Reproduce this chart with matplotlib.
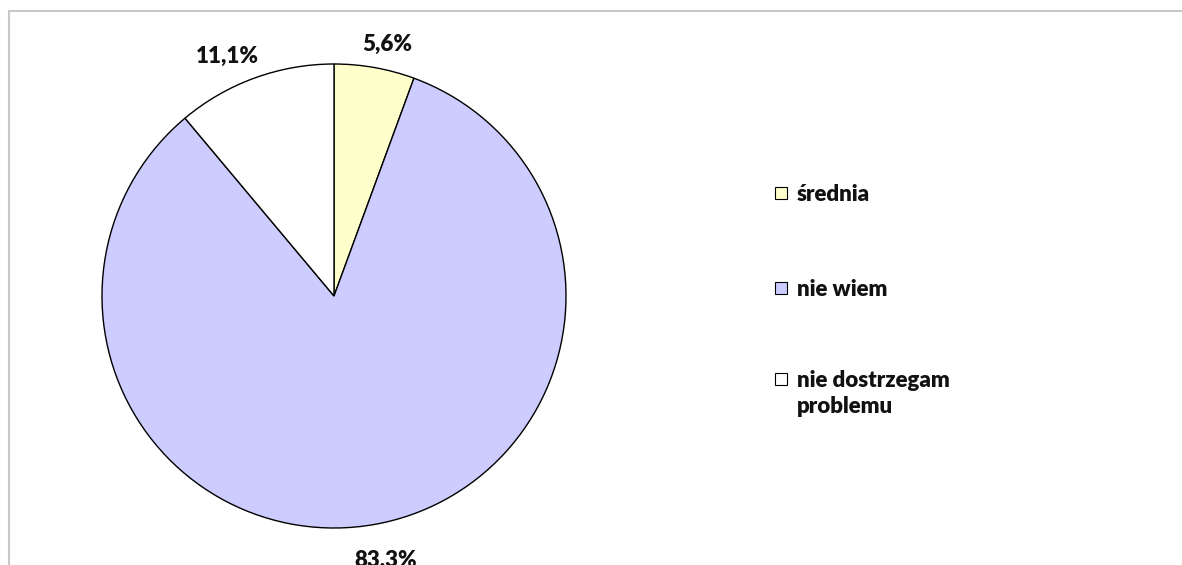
import numpy as np
import matplotlib.pyplot as plt
from matplotlib.patches import Rectangle

# data
categories = ['średnia', 'nie wiem', 'nie dostrzegam\nproblemu']
shares = [5.6, 83.3, 11.1]
slice_colors = ['#FFFFCC', '#CCCCFF', '#FFFFFF']
pct_labels = ['5,6%', '83,3%', '11,1%']

plt.rcParams['font.family'] = ['Lato', 'DejaVu Sans']

W, H = 1182, 565
fig = plt.figure(figsize=(W / 100, H / 100), dpi=100)
ax = fig.add_axes([0, 0, 1, 1])

# pie drawn in pixel-like coordinates (y axis inverted -> counterclock=True runs clockwise on screen)
cx, cy, r = 334, 296, 232
wedges, _ = ax.pie(shares, colors=slice_colors, startangle=-90, counterclock=True,
                   center=(cx, cy), radius=r, frame=True,
                   wedgeprops=dict(edgecolor='black', linewidth=1.0))
ax.set_xlim(0, W)
ax.set_ylim(H, 0)
ax.set_aspect('equal')
ax.axis('off')

# percentage labels, outside end like Excel (the bottom one is clipped by the frame, as in the original)
label_angles = [78, -79, 114]   # screen angles, deg counterclockwise from east
label_dist = [1.11, 1.16, 1.13]
for txt, ang, d in zip(pct_labels, label_angles, label_dist):
    a = np.radians(ang)
    ax.text(cx + d * r * np.cos(a), cy - d * r * np.sin(a), txt,
            ha='center', va='center', fontsize=16, fontweight='heavy', color='#111111')

# legend drawn by hand: box sits on the first line of text
leg_x = 775
leg_y = [193, 288, 379]
box = 12
line_step = 26
for lab, col, y in zip(categories, slice_colors, leg_y):
    ax.add_patch(Rectangle((leg_x, y - box / 2), box, box, facecolor=col,
                           edgecolor='black', linewidth=0.8))
    for k, line in enumerate(lab.split('\n')):
        ax.text(leg_x + 22, y + 8 + k * line_step, line, ha='left', va='baseline',
                fontsize=16, fontweight='heavy', color='#111111')

# chart area border
fig.add_artist(Rectangle((9.5 / W, -0.02), 1.05, 1 - 11.5 / H + 0.02,
                         transform=fig.transFigure, fill=False,
                         edgecolor='#c8c8c8', linewidth=1.5))

fig.savefig('out.png', dpi=100)
